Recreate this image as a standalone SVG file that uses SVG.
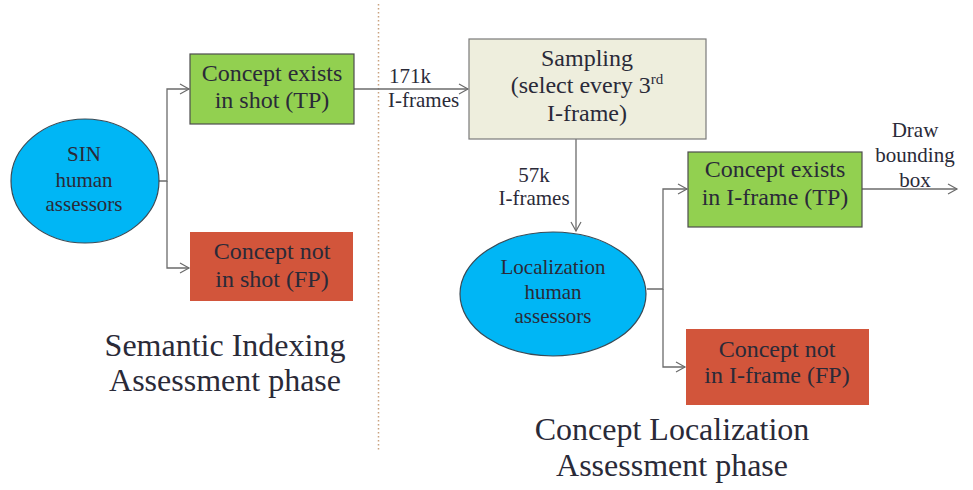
<svg xmlns="http://www.w3.org/2000/svg" width="973" height="490" viewBox="0 0 973 490">
<defs>
<marker id="arr" markerWidth="12" markerHeight="12" refX="10" refY="6" orient="auto" markerUnits="userSpaceOnUse">
<path d="M1,1 L10,6 L1,11" fill="none" stroke="#6b6b6b" stroke-width="1.2"/>
</marker>
</defs>
<style>
text{font-family:"Liberation Serif","Times New Roman",serif;fill:#2a2a38;text-anchor:middle}
.b{font-size:24px}
.s{font-size:21px}
.t{font-size:32px}
.green{fill:#92D050;stroke:#4d4d4d;stroke-width:1.2}
.red{fill:#D2553B;stroke:none}
.tan{fill:#EEEEDD;stroke:#7a7a7a;stroke-width:1.2}
.ell{fill:#00B6F5;stroke:#3a4a55;stroke-width:1.2}
.c{fill:none;stroke:#6b6b6b;stroke-width:1.3}
</style>
<rect width="973" height="490" fill="#ffffff"/>
<line x1="378.5" y1="4" x2="378.5" y2="452" stroke="#C9A27F" stroke-width="1.5" stroke-dasharray="1.5 2.5"/>
<g id="connectors">
<polyline class="c" points="158,181 167,181 167,89 189,89" marker-end="url(#arr)"/>
<polyline class="c" points="167,181 167,268 189,268" marker-end="url(#arr)"/>
<line class="c" x1="354" y1="89" x2="468" y2="89" marker-end="url(#arr)"/>
<line class="c" x1="576" y1="139" x2="576" y2="231" marker-end="url(#arr)"/>
<polyline class="c" points="647,289 663,289 663,189 687,189" marker-end="url(#arr)"/>
<polyline class="c" points="663,289 663,367 685,367" marker-end="url(#arr)"/>
<line class="c" x1="862" y1="189" x2="957" y2="189" marker-end="url(#arr)"/>
<text class="s" x="389" y="83" style="text-anchor:start">171k</text>
<text class="s" x="388" y="107" style="text-anchor:start">I-frames</text>
<text class="s" x="534" y="182">57k</text>
<text class="s" x="534" y="205">I-frames</text>
<text class="s" x="915" y="137">Draw</text>
<text class="s" x="915" y="162">bounding</text>
<text class="s" x="915" y="187">box</text>
</g>
<g id="sin">
<ellipse class="ell" cx="85" cy="181" rx="74" ry="62"/>
<text class="s" x="84" y="161">SIN</text>
<text class="s" x="84" y="187">human</text>
<text class="s" x="84" y="211">assessors</text>
</g>
<g id="tp1">
<rect class="green" x="190" y="54" width="164" height="70"/>
<text class="b" x="272" y="81">Concept exists</text>
<text class="b" x="272" y="108">in shot (TP)</text>
</g>
<g id="fp1">
<rect class="red" x="190" y="232" width="163" height="69"/>
<text class="b" x="272" y="259">Concept not</text>
<text class="b" x="272" y="287">in shot (FP)</text>
</g>
<g id="sampling">
<rect class="tan" x="469" y="39" width="237" height="100"/>
<text class="b" x="587" y="66">Sampling</text>
<text class="b" x="587" y="93">(select every 3<tspan font-size="15" dy="-9">rd</tspan></text>
<text class="b" x="587" y="121">I-frame)</text>
</g>
<g id="loc">
<ellipse class="ell" cx="553" cy="294" rx="93" ry="62"/>
<text class="s" x="553" y="274">Localization</text>
<text class="s" x="553" y="299">human</text>
<text class="s" x="553" y="323">assessors</text>
</g>
<g id="tp2">
<rect class="green" x="688" y="152" width="174" height="75"/>
<text class="b" x="775" y="177">Concept exists</text>
<text class="b" x="775" y="205">in I-frame (TP)</text>
</g>
<g id="fp2">
<rect class="red" x="686" y="329" width="183" height="76"/>
<text class="b" x="777" y="357">Concept not</text>
<text class="b" x="777" y="383">in I-frame (FP)</text>
</g>
<g id="title1">
<text class="t" x="225" y="356">Semantic Indexing</text>
<text class="t" x="225" y="391">Assessment phase</text>
</g>
<g id="title2">
<text class="t" x="672" y="440">Concept Localization</text>
<text class="t" x="672" y="476">Assessment phase</text>
</g>
</svg>
